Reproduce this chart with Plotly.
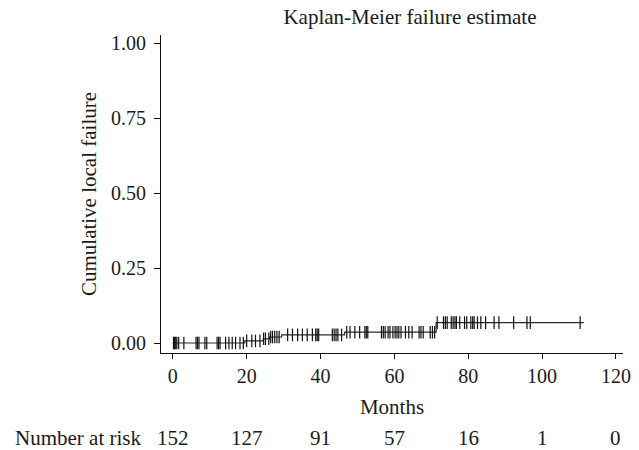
import plotly.graph_objects as go
import numpy as np

# Step function (failure events)
event_times = [0, 19.5, 24.5, 26.2, 29.5, 46.5, 71.3, 111.3]
event_values = [0.0, 0.007, 0.014, 0.020, 0.027, 0.036, 0.068, 0.068]

# Censoring times
censor_times = [
    0.2, 0.5, 0.8, 1.1, 1.6, 3.0, 6.3, 6.7, 7.1, 8.7, 9.2, 12.0, 12.4, 12.8,
    14.3, 15.2, 16.1, 17.0, 18.2, 19.1, 20.0, 21.4, 22.4, 23.6, 24.6, 25.1,
    26.0, 26.5, 27.0, 27.6, 28.2, 28.8, 31.1, 32.4, 33.8, 35.1, 36.4, 37.8,
    38.7, 39.1, 39.5, 43.2, 43.7, 44.2, 44.7, 45.7, 47.1, 48.0, 49.3, 50.6,
    52.0, 52.4, 52.8, 56.5, 57.0, 57.5, 58.3, 58.8, 59.6, 60.2, 60.7, 61.2,
    61.8, 63.0, 63.9, 64.8, 66.7, 67.2, 67.8, 69.7, 70.3, 70.9, 71.6, 73.3,
    73.8, 74.3, 75.4, 75.9, 76.4, 76.8, 77.7, 79.0, 79.6, 80.7, 81.2, 81.6,
    82.5, 83.4, 84.7, 87.0, 88.3, 92.3, 95.9, 96.8, 110.3,
]

risk_times = [0, 20, 40, 60, 80, 100, 120]
risk_counts = [152, 127, 91, 57, 16, 1, 0]

x_ticks = [0, 20, 40, 60, 80, 100, 120]
y_ticks = [0, 0.25, 0.5, 0.75, 1.0]
y_ticklabels = ["0.00", "0.25", "0.50", "0.75", "1.00"]


def step_value(t):
    idx = np.searchsorted(event_times, t, side="right") - 1
    return event_values[max(idx, 0)]


censor_values = [step_value(t) for t in censor_times]

FONT = "Liberation Serif"
TXT = "#1a1a1a"
FS = 21
TFS = 20

fig = go.Figure()
fig.add_trace(go.Scatter(
    x=event_times, y=event_values, mode="lines",
    line=dict(color="#2a2a2a", width=1.2, shape="hv"),
    hoverinfo="skip", showlegend=False,
))
fig.add_trace(go.Scatter(
    x=censor_times, y=censor_values, mode="markers",
    marker=dict(symbol="line-ns", size=9,
                line=dict(color="#111111", width=1.2)),
    showlegend=False,
))

annotations = []
for t, n in zip(risk_times, risk_counts):
    annotations.append(dict(
        x=t, xref="x", y=-0.2673, yref="paper", text=str(n),
        showarrow=False, xanchor="center", yanchor="middle",
        font=dict(family=FONT, size=FS, color=TXT),
    ))
annotations.append(dict(
    x=-0.3213, xref="paper", y=-0.2673, yref="paper", text="Number at risk",
    showarrow=False, xanchor="left", yanchor="middle",
    font=dict(family=FONT, size=FS, color=TXT),
))

fig.update_layout(
    width=639, height=450,
    margin=dict(l=161, r=8, t=35, b=97),
    paper_bgcolor="white", plot_bgcolor="white",
    font=dict(family=FONT, size=FS, color=TXT),
    title=dict(text="Kaplan-Meier failure estimate", x=0.6416, xanchor="center",
               y=0.962, yanchor="middle",
               font=dict(family=FONT, size=FS, color=TXT)),
    annotations=annotations,
    xaxis=dict(
        range=[-3.19, 121.9], tickvals=x_ticks, showgrid=False, zeroline=False,
        showline=True, linecolor="#111111", linewidth=1,
        ticks="outside", ticklen=5, tickcolor="#111111",
        tickfont=dict(family=FONT, size=TFS, color=TXT),
        title=dict(text="Months", standoff=13,
                   font=dict(family=FONT, size=FS, color=TXT)),
    ),
    yaxis=dict(
        range=[-0.0333, 1.0267], tickvals=y_ticks, ticktext=y_ticklabels,
        showgrid=False, zeroline=False,
        showline=True, linecolor="#111111", linewidth=1,
        ticks="outside", ticklen=6, tickcolor="#111111",
        ticklabelstandoff=4,
        tickfont=dict(family=FONT, size=TFS, color=TXT),
        title=dict(text="Cumulative local failure", standoff=8,
                   font=dict(family=FONT, size=FS, color=TXT)),
    ),
)

fig.write_html("out.html", config={"displayModeBar": False},
               post_script="document.body.style.margin='0';")
